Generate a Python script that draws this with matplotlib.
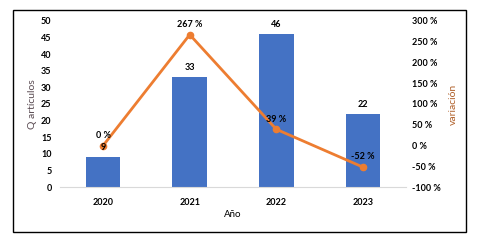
import matplotlib.pyplot as plt
from matplotlib.patches import Rectangle
from matplotlib.ticker import FuncFormatter

years = ["2020", "2021", "2022", "2023"]
articulos = [9, 33, 46, 22]
variacion = [0, 267, 39, -52]

plt.rcParams['font.family'] = ['Lato', 'DejaVu Sans']

fig = plt.figure(figsize=(4.79, 2.41), dpi=100)
ax = fig.add_axes([0.125, 0.224, 0.723, 0.689])
x = range(len(years))

ax.bar(x, articulos, width=0.4, color="#4472c4", zorder=2)
ax.set_xlim(-0.5, 3.5)
ax.set_ylim(0, 50)
ax.set_yticks(range(0, 51, 5))
ax.set_xticks(list(x))
ax.set_xticklabels(years)

ax2 = ax.twinx()
ax2.plot(x, variacion, color="#ed7d31", lw=2, marker="o", ms=4.5, zorder=3)
ax2.set_ylim(-100, 300)
ax2.set_yticks(range(-100, 301, 50))
ax2.yaxis.set_major_formatter(FuncFormatter(lambda v, p: f"{int(v)} %"))
for i, v in enumerate(variacion):
    ax2.text(i, v + 14, f"{v} %", ha="center", va="bottom", fontsize=6.5,
             fontweight="bold", zorder=5)
# bar value labels drawn on top of the line
for i, v in enumerate(articulos):
    ax2.text(i, v + 1.5, str(v), ha="center", va="bottom", fontsize=6.5,
             fontweight="bold", zorder=6, transform=ax.transData)

for a in (ax, ax2):
    for s in a.spines.values():
        s.set_visible(False)
    a.tick_params(length=0, labelsize=6.5)
    for lab in a.get_yticklabels() + a.get_xticklabels():
        lab.set_fontweight("bold")
ax.spines["bottom"].set_visible(True)
ax.spines["bottom"].set_color("#d9d9d9")
ax.tick_params(axis="x", pad=8)
ax.tick_params(axis="y", pad=6)
ax2.tick_params(axis="y", pad=4)

ax.set_xlabel("Año", fontsize=7, labelpad=2)
ax.set_ylabel("Q artículos", fontsize=7.5, color="#5a4b52", labelpad=3)
ax2.set_ylabel("variación", fontsize=7.5, color="#b0602a", labelpad=6)

fig.patches.append(Rectangle((13 / 479, 1 - 232 / 241), 453 / 479, 222 / 241,
                             transform=fig.transFigure, fill=False,
                             edgecolor="black", lw=1))

fig.savefig("out.png", dpi=100)
